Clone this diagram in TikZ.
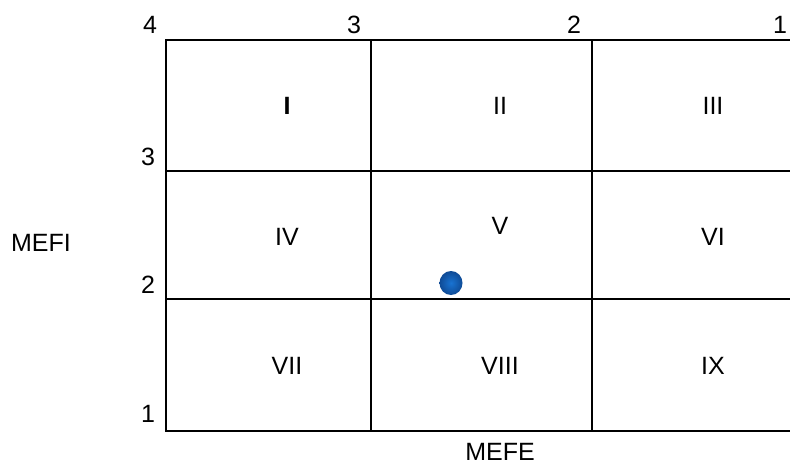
\documentclass[tikz,border=0pt]{standalone}
\usepackage{fontspec}
\setmainfont{Liberation Sans}
\definecolor{dotin}{RGB}{25,115,210}
\definecolor{dotout}{RGB}{15,75,150}
\begin{document}
\begin{tikzpicture}[x=1pt,y=-1pt,
  lbl/.style={font=\fontsize{25}{28}\selectfont, inner sep=0pt},
  gridline/.style={line width=1.6pt, black}]
\useasboundingbox (0,0) rectangle (790,467);
% grid
\draw[gridline] (790,40) -- (166,40) -- (166,431) -- (790,431);
\draw[gridline] (166,171) -- (790,171);
\draw[gridline] (166,299) -- (790,299);
\draw[gridline] (371,40) -- (371,431);
\draw[gridline] (592,40) -- (592,431);
% top axis numbers
\node[lbl] (t4) at (150,25) {4};
\node[lbl] (t3) at (354,25) {3};
\node[lbl] (t2) at (574,25) {2};
\node[lbl] (t1) at (780,25) {1};
% left axis numbers
\node[lbl] (l3) at (148,157) {3};
\node[lbl] (l2) at (148,285) {2};
\node[lbl] (l1) at (148,414) {1};
% axis titles
\node[lbl] (mefi) at (41,243) {MEFI};
\node[lbl] (mefe) at (500,452) {MEFE};
% cells
\node[lbl] (c1) at (287,106) {\textbf{I}};
\node[lbl] (c2) at (500,106) {II};
\node[lbl] (c3) at (713,106) {III};
\node[lbl] (c4) at (287,237) {IV};
\node[lbl] (c5) at (500,226) {V};
\node[lbl] (c6) at (713,237) {VI};
\node[lbl] (c7) at (287,366) {VII};
\node[lbl] (c8) at (500,366) {VIII};
\node[lbl] (c9) at (713,366) {IX};
% dot
\shade[inner color=dotin, outer color=dotout] (451,283) ellipse (11.5 and 12);
\end{tikzpicture}
\end{document}
